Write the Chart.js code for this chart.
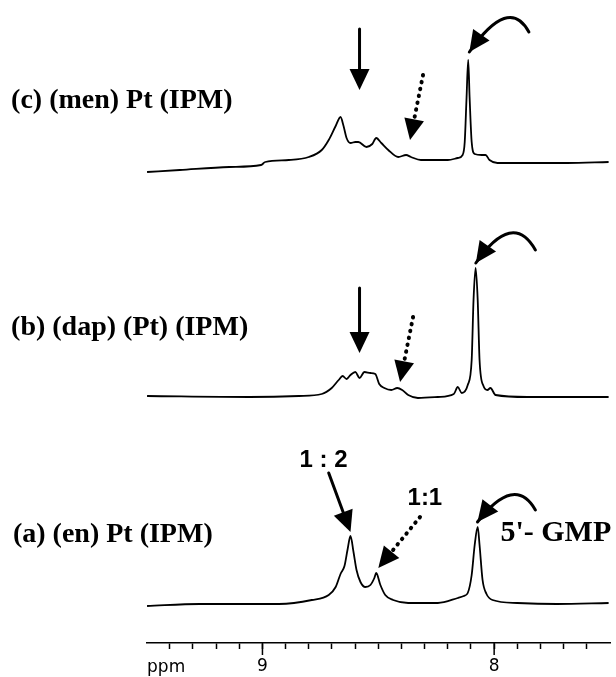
<!DOCTYPE html>
<html>
<head>
<meta charset="utf-8">
<script src="https://cdn.jsdelivr.net/npm/chart.js@4.4.1/dist/chart.umd.min.js"></script>
<style>
  html, body { margin: 0; padding: 0; background: #fff; }
  #wrap { width: 616px; height: 677px; position: relative; }
</style>
</head>
<body>
<div id="wrap"><canvas id="chart"></canvas></div>
<script>
// chemical shift axis (ppm)
const axisMin = 7.5;
const axisMax = 9.5;
const majorTicks = [9, 8];

// trace (c) (men) Pt (IPM) - ppm / intensity
const ppmC = [9.498, 9.357, 9.143, 9.006, 8.988, 8.886, 8.800, 8.744, 8.714, 8.684, 8.663, 8.650, 8.637, 8.620, 8.599, 8.586, 8.551, 8.526, 8.509, 8.487, 8.457, 8.414, 8.380, 8.359, 8.316, 8.200, 8.157, 8.136, 8.127, 8.119, 8.112, 8.106, 8.097, 8.084, 8.054, 8.037, 8.020, 7.986, 7.857, 7.686, 7.506];
const intC = [0, 2, 5, 7, 10, 12, 15, 22, 32, 46, 55, 46, 34, 29, 30, 30, 25, 28, 34, 29, 22, 15, 17, 15, 12, 12, 14, 17, 30, 75, 112, 75, 30, 18, 17, 17, 12, 9, 9, 9, 10];

// trace (b) (dap) (Pt) (IPM)
const ppmB = [9.498, 9.057, 8.843, 8.744, 8.701, 8.671, 8.654, 8.637, 8.620, 8.599, 8.581, 8.560, 8.534, 8.513, 8.496, 8.474, 8.444, 8.418, 8.397, 8.371, 8.329, 8.243, 8.174, 8.157, 8.140, 8.114, 8.097, 8.089, 8.080, 8.071, 8.063, 8.046, 8.029, 8.016, 7.994, 7.857, 7.506];
const intB = [1, 0, 1, 3, 9, 17, 21, 18, 22, 25, 19, 25, 24, 23, 13, 9, 7, 9, 7, 2, -1, 0, 3, 10, 4, 12, 37, 97, 129, 97, 37, 11, 7, 9, 2, 0, 0];

// trace (a) (en) Pt (IPM)
const ppmA = [9.498, 9.271, 8.929, 8.787, 8.714, 8.684, 8.663, 8.646, 8.633, 8.620, 8.607, 8.594, 8.577, 8.556, 8.534, 8.517, 8.509, 8.491, 8.470, 8.436, 8.371, 8.243, 8.157, 8.131, 8.114, 8.097, 8.084, 8.071, 8.063, 8.050, 8.033, 8.007, 7.900, 7.729, 7.506];
const intA = [-1, 1, 1, 5, 10, 18, 31, 39, 55, 69, 53, 35, 23, 18, 20, 27, 32, 20, 10, 5, 2, 2, 7, 9, 12, 30, 60, 78, 60, 25, 11, 5, 2, 1, 2];

const traceLabels = ['(c) (men) Pt (IPM)', '(b) (dap) (Pt) (IPM)', '(a) (en) Pt (IPM)'];

// vertical stacking of the three traces
const offsets = [471, 246, 38];

function toPoints(xs, ys, off) {
  return xs.map((x, i) => ({ x: x, y: ys[i] + off }));
}

// annotations, in ppm / stacked-intensity units
const texts = [
  { t: traceLabels[0], x: 10.085, y: 542, font: 'bold 28px "Liberation Serif"', align: 'left' },
  { t: traceLabels[1], x: 10.085, y: 315, font: 'bold 28px "Liberation Serif"', align: 'left' },
  { t: traceLabels[2], x: 10.077, y: 108, font: 'bold 28px "Liberation Serif"', align: 'left' },
  { t: '1 : 2', x: 8.736, y: 183, font: 'bold 24px "Liberation Sans"', align: 'center' },
  { t: '1:1', x: 8.299, y: 145, font: 'bold 24px "Liberation Sans"', align: 'center' },
  { t: "5'- GMP", x: 7.973, y: 110, font: 'bold 30px "Liberation Serif"', align: 'left' },
  { t: 'ppm', x: 9.498, y: -25, font: '17px "DejaVu Sans"', align: 'left' }
];
const arrows = [
  { kind: 'solid', from: [8.581, 614], to: [8.581, 553] },
  { kind: 'dotted', from: [8.307, 568], to: [8.363, 503] },
  { kind: 'curved', from: [7.850, 611], ctrl: [7.936, 648], to: [8.107, 591] },
  { kind: 'solid', from: [8.581, 355], to: [8.581, 290] },
  { kind: 'dotted', from: [8.350, 326], to: [8.406, 261] },
  { kind: 'curved', from: [7.822, 393], ctrl: [7.920, 433], to: [8.079, 380] },
  { kind: 'solid', from: [8.714, 170], to: [8.620, 111] },
  { kind: 'dotted', from: [8.320, 126], to: [8.500, 75] },
  { kind: 'curved', from: [7.822, 133], ctrl: [7.911, 169], to: [8.072, 121] }
];

function head(ctx, tx, ty, ang, len, hw) {
  const bx = tx - Math.cos(ang) * len, by = ty - Math.sin(ang) * len;
  ctx.beginPath();
  ctx.moveTo(tx, ty);
  ctx.lineTo(bx + Math.sin(ang) * hw, by - Math.cos(ang) * hw);
  ctx.lineTo(bx - Math.sin(ang) * hw, by + Math.cos(ang) * hw);
  ctx.closePath();
  ctx.fill();
}

const annotate = {
  id: 'annotate',
  afterDraw(chart) {
    const ctx = chart.ctx, xs = chart.scales.x, ys = chart.scales.y;
    const px = v => xs.getPixelForValue(v), py = v => ys.getPixelForValue(v);
    ctx.save();
    ctx.fillStyle = '#000';
    ctx.strokeStyle = '#000';

    // longer ticks at whole ppm
    ctx.lineWidth = 1.5;
    majorTicks.forEach(v => {
      ctx.beginPath();
      ctx.moveTo(px(v), xs.top);
      ctx.lineTo(px(v), xs.top + 12);
      ctx.stroke();
    });

    const len = 21, hw = 10;
    arrows.forEach(a => {
      const x0 = px(a.from[0]), y0 = py(a.from[1]);
      const x1 = px(a.to[0]), y1 = py(a.to[1]);
      ctx.lineCap = 'round';
      if (a.kind === 'curved') {
        const cx = px(a.ctrl[0]), cy = py(a.ctrl[1]);
        ctx.lineWidth = 3;
        ctx.setLineDash([]);
        ctx.beginPath();
        ctx.moveTo(x0, y0);
        ctx.quadraticCurveTo(cx, cy, x1, y1);
        ctx.stroke();
        head(ctx, x1, y1, Math.atan2(y1 - cy, x1 - cx), len, hw);
      } else {
        const ang = Math.atan2(y1 - y0, x1 - x0);
        const ex = x1 - Math.cos(ang) * (len - 2), ey = y1 - Math.sin(ang) * (len - 2);
        if (a.kind === 'dotted') {
          ctx.lineWidth = 4;
          ctx.setLineDash([0.5, 6.5]);
        } else {
          ctx.lineWidth = 3;
          ctx.setLineDash([]);
        }
        ctx.beginPath();
        ctx.moveTo(x0, y0);
        ctx.lineTo(ex, ey);
        ctx.stroke();
        ctx.setLineDash([]);
        head(ctx, x1, y1, ang, len, hw);
      }
    });

    ctx.textBaseline = 'middle';
    texts.forEach(t => {
      ctx.font = t.font;
      ctx.textAlign = t.align;
      ctx.fillText(t.t, px(t.x), py(t.y));
    });
    ctx.restore();
  }
};

const trace = (data) => ({
  data: data,
  borderColor: '#000',
  borderWidth: 1.8,
  pointRadius: 0,
  fill: false,
  cubicInterpolationMode: 'monotone'
});

new Chart(document.querySelector('#chart'), {
  type: 'line',
  data: {
    datasets: [
      trace(toPoints(ppmC, intC, offsets[0])),
      trace(toPoints(ppmB, intB, offsets[1])),
      trace(toPoints(ppmA, intA, offsets[2]))
    ]
  },
  options: {
    responsive: true,
    maintainAspectRatio: false,
    animation: false,
    layout: { padding: { left: 146.6, right: 2.6, top: 0, bottom: 0 } },
    plugins: { legend: { display: false }, tooltip: { enabled: false } },
    scales: {
      x: {
        type: 'linear',
        reverse: true,
        min: axisMin,
        max: axisMax,
        border: { display: true, color: '#000', width: 1.5 },
        grid: {
          drawOnChartArea: false,
          drawTicks: true,
          tickLength: 6,
          tickWidth: 1.5,
          tickColor: c => (Math.abs(c.tick.value - axisMin) < 1e-6 || Math.abs(c.tick.value - axisMax) < 1e-6) ? 'rgba(0,0,0,0)' : '#000'
        },
        ticks: {
          stepSize: 0.1,
          autoSkip: false,
          maxRotation: 0,
          padding: 6,
          color: '#000',
          font: { family: 'DejaVu Sans', size: 17, lineHeight: '8px' },
          // blank first line pushes the digit a little lower under the axis
          callback: v => Math.abs(v - Math.round(v)) < 1e-6 ? ['', String(Math.round(v))] : ''
        }
      },
      y: { display: false, min: 0, max: 643 }
    }
  },
  plugins: [annotate]
});
</script>
</body>
</html>
